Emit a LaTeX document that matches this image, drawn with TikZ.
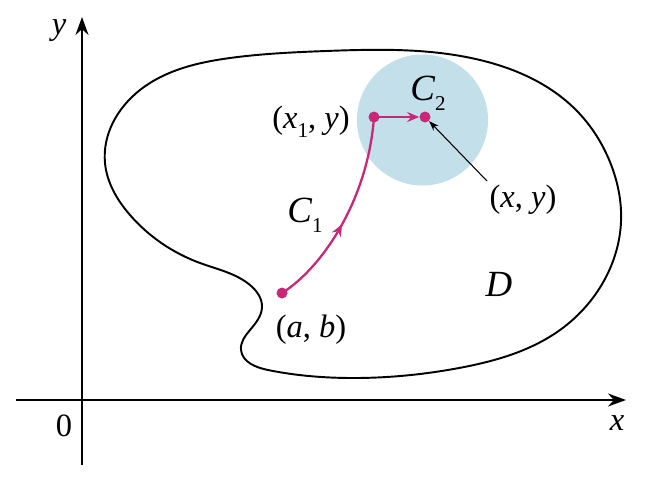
\documentclass[tikz,border=0pt]{standalone}
\usepackage{fontspec}
\setmainfont{Liberation Serif}
\usetikzlibrary{arrows.meta,decorations.markings,hobby}
\definecolor{mag}{RGB}{200,40,120}
\definecolor{disc}{RGB}{194,223,234}
\newcommand{\sbs}[1]{\raisebox{-0.28em}{\fontsize{12}{14}\selectfont #1}}
\begin{document}
\begin{tikzpicture}[x=0.02cm,y=-0.02cm,
  axis/.style={line width=0.85pt,-{Stealth[length=0.36cm,width=0.26cm]}},
  dot/.style={circle,fill=mag,inner sep=0pt,minimum size=0.22cm},
  lbl/.style={font=\fontsize{18.5}{22}\selectfont,inner sep=0pt},
  big/.style={font=\fontsize{21}{25}\selectfont,inner sep=0pt},
  magarrow/.style={mag,line width=1.3pt},
  maghead/.style={-{Stealth[length=0.24cm,width=0.2cm]}}]
\useasboundingbox (0,0) rectangle (652,480);
% disc
\fill[disc] (422.5,120) circle (65.5);
% region boundary
\draw[line width=1.1pt,use Hobby shortcut,closed=true]
 (326,51) .. (480,60) .. (576,110) .. (610,162) .. (621,222) .. (607,275)
 .. (560,330) .. (459,368) .. (350,378) .. (268,370) .. (241,350) .. (250,330)
 .. (262,307) .. (250,285) .. (200,263) .. (130,215) .. (105,163)
 .. (140,90) .. (230,58);
% axes
\coordinate (xl) at (16,400);
\coordinate (xr) at (626,400);
\coordinate (yb) at (82,465);
\coordinate (yt) at (82,17);
\draw[axis] (xl) -- (xr);
\draw[axis] (yb) -- (yt);
\node[lbl] (ylab) at (59,31) {\textit{y}};
\node[lbl] (xlab) at (617,423) {\textit{x}};
\node[lbl] (zero) at (64,426) {0};
% points
\node[dot] (A) at (282,293) {};
\node[dot] (P) at (374,117) {};
\node[dot] (Q) at (425,117) {};
% C1 path
\draw[magarrow,decoration={markings,mark=at position 0.45 with {\arrow{Stealth[length=0.24cm,width=0.2cm]}}},postaction={decorate}]
  (A.center) .. controls (322,268) and (368,200) .. (P.center);
% C2 path
\draw[magarrow,maghead] (P.center) -- (Q.west);
% labels
\node[lbl] (Plab) at (311,122) {(\textit{x}\sbs{1}, \textit{y})};
\node[big] (C2) at (428,93) {\textit{C}\sbs{2}};
\node[big] (C1) at (305,215) {\textit{C}\sbs{1}};
\node[lbl] (ab) at (311,330) {(\textit{a}, \textit{b})};
\node[big] (D) at (499,284) {\textit{D}};
\node[lbl] (xy) at (523,200) {(\textit{x}, \textit{y})};
\coordinate (ptr) at (487,181);
\draw[line width=0.6pt,-{Stealth[length=0.2cm,width=0.14cm]}] (ptr) -- (Q.south east);
\end{tikzpicture}
\end{document}
